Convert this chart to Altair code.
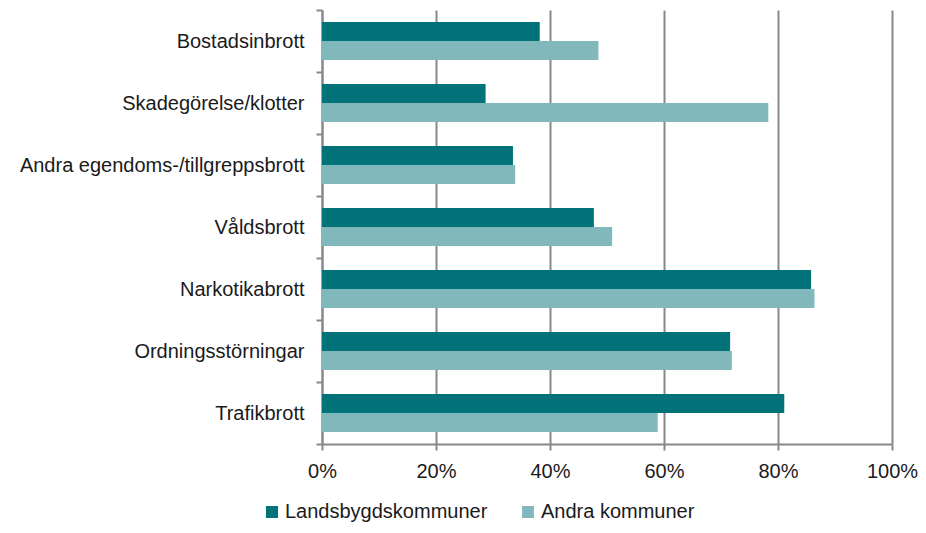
import altair as alt
import pandas as pd

categories = ["Bostadsinbrott", "Skadegörelse/klotter", "Andra egendoms-/tillgreppsbrott",
              "Våldsbrott", "Narkotikabrott", "Ordningsstörningar", "Trafikbrott"]
series = ["Landsbygdskommuner", "Andra kommuner"]
landsbygd = [0.382, 0.287, 0.335, 0.477, 0.858, 0.716, 0.811]
andra = [0.485, 0.783, 0.339, 0.509, 0.864, 0.719, 0.589]
x_ticks = [0, 0.2, 0.4, 0.6, 0.8, 1.0]
colors = ["#007278", "#80B8BC"]

rows = []
for c, a, b in zip(categories, landsbygd, andra):
    rows.append({"Kategori": c, "Serie": series[0], "Andel": a})
    rows.append({"Kategori": c, "Serie": series[1], "Andel": b})
df = pd.DataFrame(rows)

FONT = "Liberation Sans"
FS = 20

chart = alt.Chart(df).mark_bar().encode(
    x=alt.X("Andel:Q",
            scale=alt.Scale(domain=[0, 1]),
            axis=alt.Axis(values=x_ticks, format=".0%", title=None, grid=True,
                          gridColor="#888888", gridWidth=2, domainColor="#888888",
                          domainWidth=2, tickColor="#888888", tickWidth=2, tickSize=6,
                          labelFontSize=FS, labelFont=FONT, labelColor="#1a1a1a",
                          labelPadding=11, labelFlush=False)),
    y=alt.Y("Kategori:N", sort=categories,
            scale=alt.Scale(paddingInner=0, paddingOuter=0),
            axis=alt.Axis(title=None, tickBand="extent", grid=False,
                          domainColor="#888888", domainWidth=2, tickColor="#888888",
                          tickWidth=2, tickSize=6, labelFontSize=FS, labelFont=FONT,
                          labelColor="#1a1a1a", labelPadding=12, labelLimit=400)),
    yOffset=alt.YOffset("Serie:N", sort=series,
                        scale=alt.Scale(paddingInner=0, paddingOuter=0.63)),
    color=alt.Color("Serie:N", sort=series,
                    scale=alt.Scale(domain=series, range=colors),
                    legend=alt.Legend(title=None, orient="none", direction="horizontal",
                                      legendX=-60, legendY=492, symbolType="square",
                                      symbolSize=144, symbolStrokeWidth=0,
                                      labelFontSize=FS, labelFont=FONT, labelLimit=400,
                                      labelColor="#1a1a1a", columnPadding=30,
                                      labelOffset=3)),
).properties(
    width=570, height=434,
    autosize=alt.AutoSizeParams(type="none"),
    padding={"left": 314, "top": 2, "right": 26, "bottom": 81},
).configure_view(stroke=None)

chart.save("out.html", embed_options={"renderer": "svg", "actions": False})
